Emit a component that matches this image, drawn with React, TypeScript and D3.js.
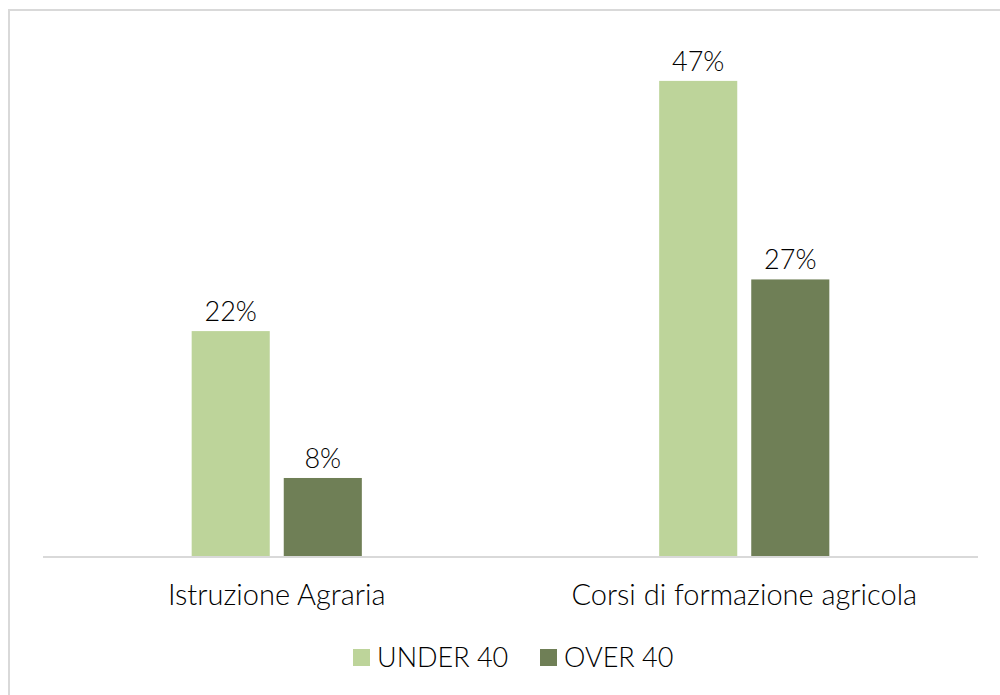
import React from "react";
import * as d3 from "d3";

const categories = ["Istruzione Agraria", "Corsi di formazione agricola"];
const seriesNames = ["UNDER 40", "OVER 40"];
const under40 = [0.223, 0.47];
const over40 = [0.078, 0.274];
const seriesColors = ["#bdd49a", "#6f7f56"];

const width = 1000;
const height = 695;
const font = "Lato, 'Open Sans', sans-serif";

const App: React.FC = () => {
  const values = [under40, over40];

  // scales
  const x0 = d3
    .scaleBand<string>()
    .domain(categories)
    .range([43, 978])
    .paddingInner(0.636)
    .paddingOuter(0.318);
  const x1 = d3
    .scaleBand<string>()
    .domain(seriesNames)
    .range([0, x0.bandwidth()])
    .paddingInner(0.152);
  const y = d3.scaleLinear().domain([0, 0.5]).range([557, 50.5]);
  const pct = d3.format(".0%");

  return (
    <svg
      width={width}
      height={height}
      style={{ position: "absolute", left: 0, top: 0, background: "#fff" }}
      fontFamily={font}
      fontWeight={300}
    >
      {/* chart frame, only top and left edges show */}
      <rect x={9} y={10} width={1100} height={800} fill="#fff" stroke="#d9d9d9" strokeWidth={2} />

      {categories.map((cat, ci) => (
        <g key={cat} transform={`translate(${x0(cat)},0)`}>
          {seriesNames.map((s, si) => {
            const v = values[si][ci];
            const bx = x1(s) ?? 0;
            return (
              <g key={s}>
                <rect
                  x={bx}
                  y={y(v)}
                  width={x1.bandwidth()}
                  height={y(0) - y(v)}
                  fill={seriesColors[si]}
                />
                <text
                  x={bx + x1.bandwidth() / 2}
                  y={y(v) - 10}
                  textAnchor="middle"
                  fontSize={27}
                  fill="#000"
                >
                  {pct(v)}
                </text>
              </g>
            );
          })}
          <text
            x={x0.bandwidth() / 2}
            y={605}
            textAnchor="middle"
            fontSize={29}
            fill="#000"
          >
            {cat}
          </text>
        </g>
      ))}

      {/* baseline */}
      <line x1={43} x2={978} y1={557} y2={557} stroke="#d9d9d9" strokeWidth={2} />

      {/* legend */}
      {seriesNames.map((s, si) => {
        const lx = [353, 540][si];
        return (
          <g key={s}>
            <rect x={lx} y={649} width={17} height={17} fill={seriesColors[si]} />
            <text x={lx + 24} y={667} fontSize={27} fill="#000">
              {s}
            </text>
          </g>
        );
      })}
    </svg>
  );
};

export default App;
